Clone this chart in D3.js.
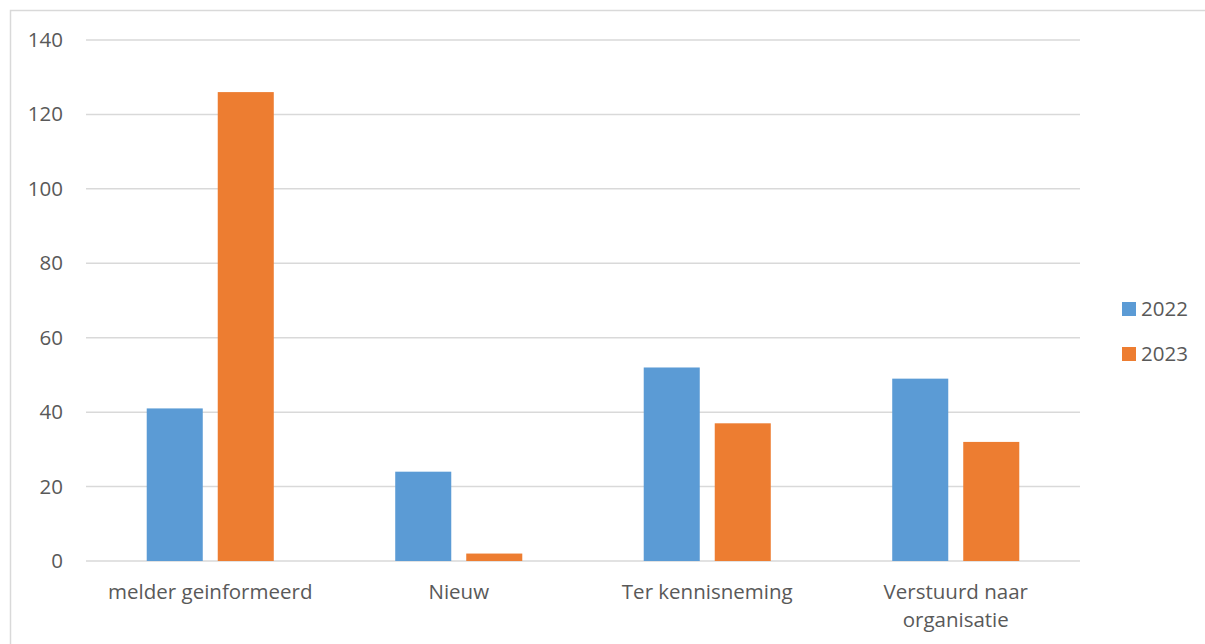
<!DOCTYPE html>
<html>
<head>
<meta charset="utf-8">
<script src="https://cdn.jsdelivr.net/npm/d3@7"></script>
<style>
  html, body { margin: 0; padding: 0; background: #fff; }
  svg { display: block; }
  text { font-family: "Open Sans", Lato, sans-serif; fill: #595959; }
</style>
</head>
<body>
<svg id="chart" width="1205" height="644"></svg>
<script>
// Meldingen per status, 2022 vs 2023
const categories = ["melder geinformeerd", "Nieuw", "Ter kennisneming", "Verstuurd naar organisatie"];
const seriesNames = ["2022", "2023"];
const values2022 = [41, 24, 52, 49];
const values2023 = [126, 2, 37, 32];
const yTicks = [0, 20, 40, 60, 80, 100, 120, 140];
const colors = ["#5b9bd5", "#ed7d31"];

const svg = d3.select("#chart");
const W = 1205, H = 644;
const FONT = "20.5px";

// outer chart frame
svg.append("rect")
  .attr("x", 10.5).attr("y", 10.5)
  .attr("width", W + 20).attr("height", H + 20)
  .attr("fill", "none").attr("stroke", "#d9d9d9").attr("stroke-width", 1.5);

const plot = { left: 86, right: 1080, top: 40, bottom: 561 };

const x = d3.scaleBand().domain(categories).range([plot.left, plot.right]).paddingInner(0).paddingOuter(0);
const xInner = d3.scaleBand().domain(seriesNames).range([0, x.bandwidth()]).paddingInner(0.211).paddingOuter(0.855);
const y = d3.scaleLinear().domain([0, 140]).range([plot.bottom, plot.top]);

// gridlines
svg.append("g").selectAll("line").data(yTicks).join("line")
  .attr("x1", plot.left).attr("x2", plot.right)
  .attr("y1", d => y(d)).attr("y2", d => y(d))
  .attr("stroke", "#d9d9d9").attr("stroke-width", 1.5);

// y axis labels
const yAxis = d3.axisLeft(y).tickValues(yTicks).tickSize(0).tickPadding(0);
const gy = svg.append("g").attr("transform", `translate(63,0)`).call(yAxis);
gy.select(".domain").remove();
gy.selectAll("text").style("font-size", FONT).attr("fill", "#595959")
  .style("font-family", "'Open Sans', Lato, sans-serif");

// bars
const rows = categories.map((c, i) => ({ cat: c, vals: [values2022[i], values2023[i]] }));
const groups = svg.append("g").selectAll("g").data(rows).join("g")
  .attr("transform", d => `translate(${x(d.cat)},0)`);
groups.selectAll("rect").data(d => d.vals.map((v, j) => ({ key: seriesNames[j], v, j })))
  .join("rect")
  .attr("x", d => xInner(d.key))
  .attr("width", xInner.bandwidth())
  .attr("y", d => y(d.v))
  .attr("height", d => y(0) - y(d.v))
  .attr("fill", d => colors[d.j]);

// category labels (wrapped to band width)
const labelLines = {
  "melder geinformeerd": ["melder geinformeerd"],
  "Nieuw": ["Nieuw"],
  "Ter kennisneming": ["Ter kennisneming"],
  "Verstuurd naar organisatie": ["Verstuurd naar", "organisatie"]
};
const xl = svg.append("g");
categories.forEach(c => {
  const t = xl.append("text")
    .attr("x", x(c) + x.bandwidth() / 2)
    .attr("y", 599)
    .attr("text-anchor", "middle")
    .style("font-size", FONT);
  labelLines[c].forEach((ln, k) => {
    t.append("tspan").attr("x", x(c) + x.bandwidth() / 2).attr("dy", k === 0 ? 0 : 28).text(ln);
  });
});

// legend
const legend = svg.append("g");
seriesNames.forEach((s, i) => {
  const ly = 302 + i * 45;
  legend.append("rect").attr("x", 1122).attr("y", ly).attr("width", 14).attr("height", 14).attr("fill", colors[i]);
  legend.append("text").attr("x", 1141).attr("y", ly + 14).style("font-size", FONT).text(s);
});
</script>
</body>
</html>
